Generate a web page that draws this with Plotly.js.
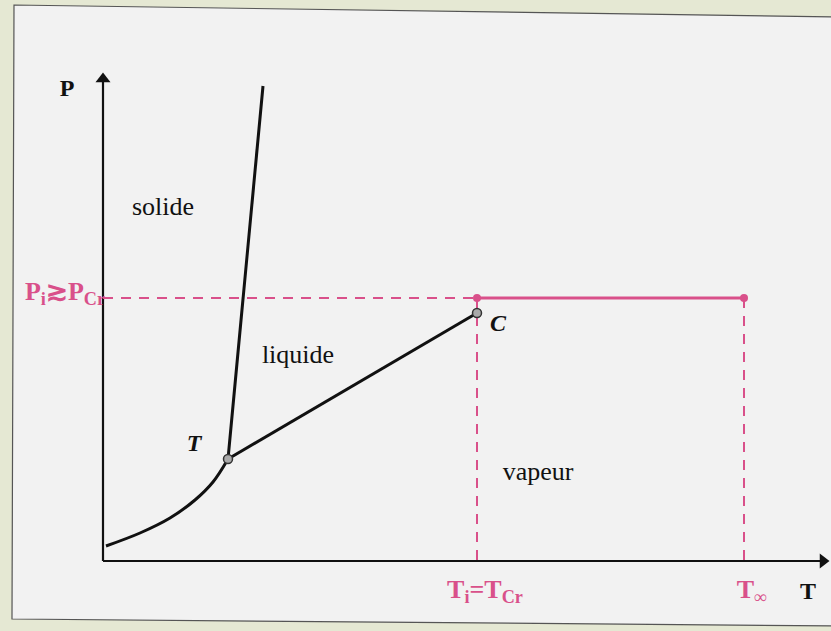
<!DOCTYPE html>
<html><head><meta charset="utf-8">
<script src="https://cdn.plot.ly/plotly-3.0.1.min.js"></script>
<style>body{margin:0;padding:0;}#chart{width:831px;height:631px;}</style>
</head><body><div id="chart"></div>
<script>
// Phase diagram data (T, P in arbitrary units; origin at the axes' corner)
var sublimationT = [3, 37, 67, 92, 110, 125];
var sublimationP = [15, 28, 43, 61, 79, 102];
var fusionT = [125, 160];
var fusionP = [102, 475];
var vaporT = [125, 374];
var vaporP = [102, 248];
var tripleT = [125], tripleP = [102];
var criticalT = [374], criticalP = [248];
var Pi = 263;          // P_i ≳ P_Cr
var Ti = 374;          // T_i = T_Cr
var Tinf = 641;        // T_∞
var axisTmax = 727, axisPmax = 489;

// text labels
var regionLabels = ['solide', 'liquide', 'vapeur'];
var pointLabels = ['<b><i>T</i></b>', '<b><i>C</i></b>'];
var axisLabels = ['<b>P</b>', '<b>T</b>'];
var pinkLabels = ['<b>P<sub>i</sub>≳P<sub>Cr</sub></b>', '<b>T<sub>i</sub>=T<sub>Cr</sub></b>', '<b>T<sub>∞</sub></b>'];

var pink = '#d9508a';
var serif = 'Liberation Serif';

var traces = [
  // axes
  {x: [0, 0], y: [0, axisPmax - 8], mode: 'lines', line: {color: '#111', width: 2.2}, hoverinfo: 'skip'},
  {x: [0, axisTmax - 8], y: [0, 0], mode: 'lines', line: {color: '#111', width: 2.2}, hoverinfo: 'skip'},
  {x: [0], y: [axisPmax - 7], mode: 'markers', marker: {symbol: 'triangle-up', size: 13, color: '#111'}, hoverinfo: 'skip'},
  {x: [axisTmax - 7], y: [0], mode: 'markers', marker: {symbol: 'triangle-right', size: 13, color: '#111'}, hoverinfo: 'skip'},
  // phase boundaries
  {x: sublimationT, y: sublimationP, mode: 'lines', line: {color: '#111', width: 3, shape: 'spline'}, hoverinfo: 'skip'},
  {x: fusionT, y: fusionP, mode: 'lines', line: {color: '#111', width: 3}, hoverinfo: 'skip'},
  {x: vaporT, y: vaporP, mode: 'lines', line: {color: '#111', width: 3}, hoverinfo: 'skip'},
  // pink dashed guides
  {x: [0, Ti], y: [Pi, Pi], mode: 'lines', line: {color: pink, width: 2, dash: '10px,8px'}, hoverinfo: 'skip'},
  {x: [Ti, Ti], y: [Pi, 0], mode: 'lines', line: {color: pink, width: 2, dash: '10px,8px'}, hoverinfo: 'skip'},
  {x: [Tinf, Tinf], y: [Pi, 0], mode: 'lines', line: {color: pink, width: 2, dash: '10px,8px'}, hoverinfo: 'skip'},
  // pink solid isobar
  {x: [Ti, Tinf], y: [Pi, Pi], mode: 'lines+markers', line: {color: pink, width: 3}, marker: {color: pink, size: 8}, hoverinfo: 'skip'},
  // triple and critical points
  {x: tripleT.concat(criticalT), y: tripleP.concat(criticalP), mode: 'markers',
   marker: {color: '#a9a9a9', size: 9, line: {color: '#333', width: 1.5}}, hoverinfo: 'skip'},
  // labels
  {x: [60, 195, 435], y: [353, 205, 88], mode: 'text', text: regionLabels, textposition: 'middle center',
   textfont: {family: serif, size: 26, color: '#111'}, hoverinfo: 'skip'},
  {x: [tripleT[0] - 34, criticalT[0] + 21], y: [tripleP[0] + 14, criticalP[0] - 12], mode: 'text', text: pointLabels, textposition: 'middle center',
   textfont: {family: serif, size: 24, color: '#111'}, hoverinfo: 'skip'},
  {x: [-36, 705], y: [471, -32], mode: 'text', text: axisLabels, textposition: 'middle center',
   textfont: {family: serif, size: 24, color: '#111'}, hoverinfo: 'skip'},
  {x: [-38, Ti + 8, Tinf + 8], y: [Pi + 5, -30, -30], mode: 'text', text: pinkLabels, textposition: 'middle center',
   textfont: {family: serif, size: 26, color: pink}, hoverinfo: 'skip'}
];

var layout = {
  width: 831, height: 631,
  margin: {l: 0, r: 0, t: 0, b: 0},
  paper_bgcolor: '#e5e8d3',
  plot_bgcolor: 'rgba(0,0,0,0)',
  showlegend: false,
  hovermode: false,
  xaxis: {range: [-103, 728], visible: false, fixedrange: true},
  yaxis: {range: [-70, 561], visible: false, fixedrange: true},
  shapes: [
    {type: 'path', xref: 'x', yref: 'y', layer: 'below',
     path: 'M -89,556 L 735,544 L 735,-65 L -91,-58 Z',
     fillcolor: '#f2f2f2', line: {color: '#555', width: 1.2}}
  ]
};

Plotly.newPlot('chart', traces, layout, {displayModeBar: false});
</script></body></html>
